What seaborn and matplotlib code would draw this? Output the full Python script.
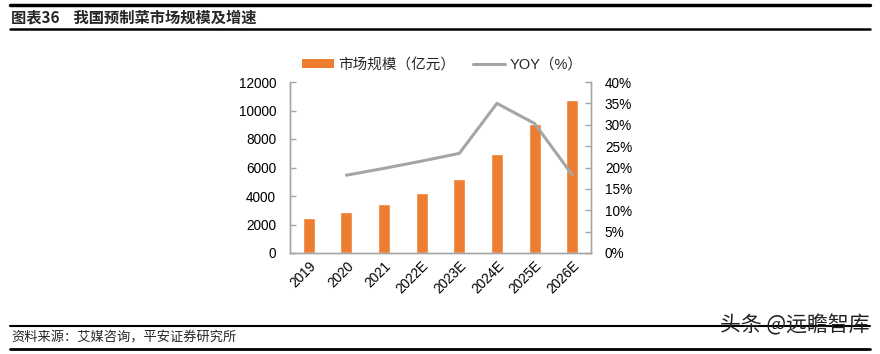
import matplotlib
matplotlib.use("Agg")
import matplotlib.pyplot as plt
import seaborn as sns
import numpy as np
from matplotlib.patches import Patch
from matplotlib.lines import Line2D

categories = ["2019", "2020", "2021", "2022E", "2023E", "2024E", "2025E", "2026E"]
market_size = [2450, 2890, 3440, 4210, 5190, 6950, 9050, 10740]
yoy_categories = ["2020", "2021", "2022E", "2023E", "2024E", "2025E", "2026E"]
yoy = [18.2, 19.8, 21.5, 23.3, 35.0, 30.3, 18.3]
left_ticks = [0, 2000, 4000, 6000, 8000, 10000, 12000]
right_ticks = [0, 5, 10, 15, 20, 25, 30, 35, 40]

sns.set_theme(style="white")
plt.rcParams['font.family'] = ['Liberation Sans', 'Noto Sans CJK SC', 'DejaVu Sans']

W, H = 880, 354
fig = plt.figure(figsize=(W / 100, H / 100), dpi=100)
fig.patch.set_facecolor("white")

orange = "#ED7D31"
gray = "#A5A5A5"
axis_gray = "#A6A6A6"

ax = fig.add_axes([290 / W, (H - 253) / H, 301 / W, 171 / H])
sns.barplot(x=categories, y=market_size, color=orange, width=0.32, saturation=1, ax=ax)
ax.set_xlim(-0.5, len(categories) - 0.5)
ax.set_ylim(0, 12000)
ax.set_yticks(left_ticks)
ax.set_yticklabels([str(v) for v in left_ticks], fontsize=9.8)
ax.set_xticks(range(len(categories)))
ax.set_xticklabels(categories, rotation=45, ha="right", rotation_mode="anchor", fontsize=9.8)
ax.set_xlabel("")
ax.set_ylabel("")

ax2 = ax.twinx()
xpos = [categories.index(c) for c in yoy_categories]
sns.lineplot(x=xpos, y=yoy, color=gray, linewidth=2.2, ax=ax2)
ax2.set_ylim(0, 40)
ax2.set_yticks(right_ticks)
ax2.set_yticklabels([f"{v}%" for v in right_ticks], fontsize=9.8)
ax2.set_xlim(-0.5, len(categories) - 0.5)

for a in (ax, ax2):
    for s in a.spines.values():
        s.set_color(axis_gray)
        s.set_linewidth(1.0)
    a.spines['top'].set_visible(False)
    a.tick_params(axis='y', direction='in', length=4, color=axis_gray, width=1, labelcolor="black")
ax.tick_params(axis='x', length=0, pad=4, labelcolor="black")
ax.tick_params(axis='y', pad=10)
ax2.tick_params(axis='y', pad=10)
ax2.grid(False)
ax.grid(False)

handles = [Patch(facecolor=orange, edgecolor='none'),
           Line2D([0], [0], color=gray, linewidth=2.2)]
labels = ["市场规模（亿元）", "YOY（%）"]
fig.legend(handles, labels, loc="center", bbox_to_anchor=(442 / W, 1 - 65 / H),
           ncol=2, frameon=False, fontsize=10.5, handlelength=2.2, handleheight=0.6,
           columnspacing=1.2, handletextpad=0.3)

# header
fig.add_artist(Line2D([10 / W, 870 / W], [1 - 5 / H, 1 - 5 / H], color="black", linewidth=2.5))
fig.add_artist(Line2D([10 / W, 870 / W], [1 - 29 / H, 1 - 29 / H], color="black", linewidth=1.8))
fig.text(11 / W, 1 - 17 / H, "图表36    我国预制菜市场规模及增速", fontsize=11, fontweight="bold",
         va="center", ha="left", family=['Noto Sans CJK SC', 'DejaVu Sans'])

# footer
fig.add_artist(Line2D([10 / W, 870 / W], [1 - 326 / H, 1 - 326 / H], color="black", linewidth=1.5))
fig.add_artist(Line2D([10 / W, 870 / W], [1 - 349 / H, 1 - 349 / H], color="black", linewidth=2.0))
fig.text(11 / W, 1 - 338 / H, "资料来源：艾媒咨询，平安证券研究所", fontsize=9.5, style="italic",
         va="center", ha="left", family=['Noto Sans CJK SC', 'DejaVu Sans'])
fig.text(870 / W, 1 - 325 / H, "头条 @远瞻智库", fontsize=15, color="#222222",
         va="center", ha="right", family=['Noto Sans CJK SC', 'DejaVu Sans'])

fig.savefig("out.png", dpi=100, facecolor="white")
